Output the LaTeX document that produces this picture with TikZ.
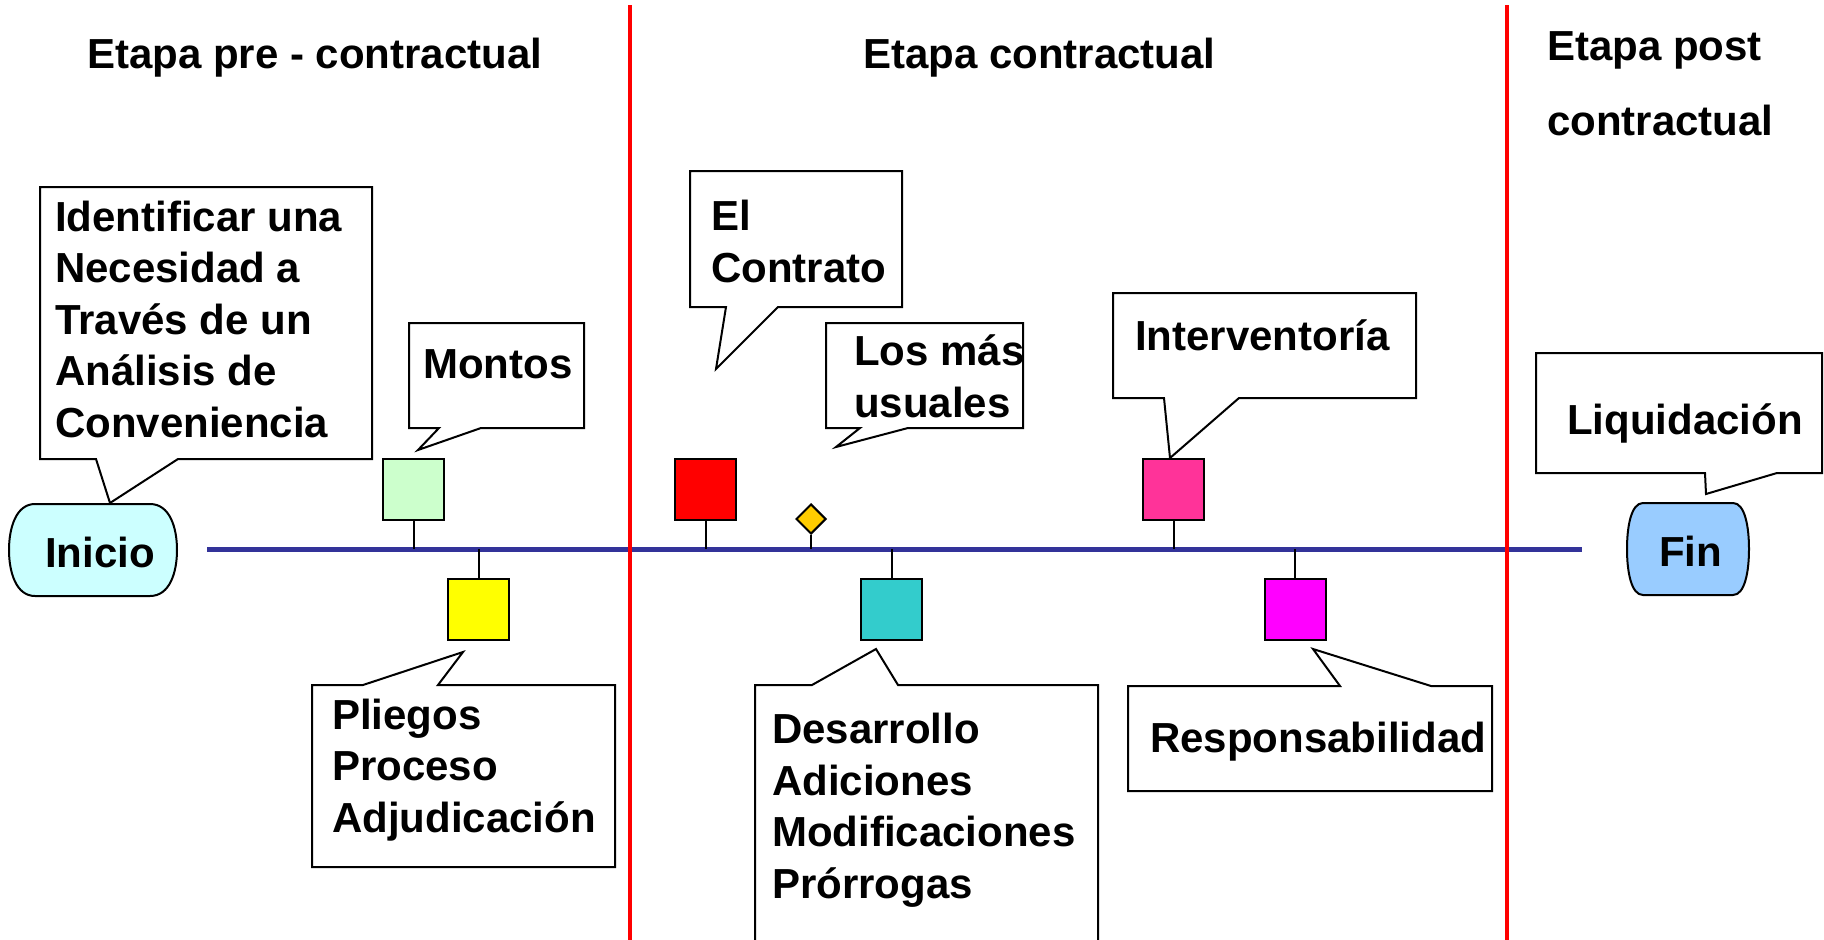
\documentclass[tikz,border=0pt]{standalone}
\usepackage{fontspec}
\setmainfont{Liberation Sans}
\usetikzlibrary{shapes.geometric}
\definecolor{inicioC}{HTML}{CCFFFF}
\definecolor{finC}{HTML}{99CCFF}
\definecolor{greenC}{HTML}{CCFFCC}
\definecolor{yellowC}{HTML}{FFFF00}
\definecolor{redC}{HTML}{FF0000}
\definecolor{diamC}{HTML}{FFCC00}
\definecolor{cyanC}{HTML}{33CCCC}
\definecolor{pinkC}{HTML}{FF3399}
\definecolor{magC}{HTML}{FF00FF}
\definecolor{lineC}{HTML}{333399}
\tikzset{
  txt/.style={font=\fontsize{42}{51.5}\selectfont\bfseries, inner sep=0pt, anchor=base west, align=left},
  callout/.style={draw=black, fill=white, line width=2pt, line join=miter},
  term/.style={draw=black, line width=2pt},
  sq/.style={draw=black, line width=2pt, minimum width=61pt, minimum height=61pt, inner sep=0pt},
  stem/.style={draw=black, line width=2pt},
  timeline/.style={draw=lineC, line width=5pt},
  divider/.style={draw=redC, line width=4.5pt}
}
\begin{document}
\begin{tikzpicture}[x=1pt,y=-1pt]
\useasboundingbox (0,0) rectangle (1824,940);
\clip (0,0) rectangle (1824,940);
\fill[white] (0,0) rectangle (1824,940);

% titles
\node[txt] (t1) at (87,68) {Etapa pre - contractual};
\node[txt] (t2) at (863,68) {Etapa contractual};
\node[txt, font=\fontsize{42}{75}\selectfont\bfseries] (t3) at (1547,135) {Etapa post\\contractual};

% callout shapes
\draw[callout] (40,187) -- (372,187) -- (372,459) -- (178,459) -- (110,503) -- (96,459) -- (40,459) -- cycle;
\draw[callout] (409,323) -- (584,323) -- (584,428) -- (481,428) -- (418,450) -- (439,428) -- (409,428) -- cycle;
\draw[callout] (690,171) -- (902,171) -- (902,307) -- (778,307) -- (716,369) -- (726,307) -- (690,307) -- cycle;
\draw[callout] (826,323) -- (1023,323) -- (1023,428) -- (908,428) -- (836,447) -- (860,428) -- (826,428) -- cycle;
\draw[callout] (1113,293) -- (1416,293) -- (1416,398) -- (1239,398) -- (1170,458) -- (1164,398) -- (1113,398) -- cycle;
\draw[callout] (1536,353) -- (1822,353) -- (1822,473) -- (1777,473) -- (1706,494) -- (1705,473) -- (1536,473) -- cycle;
\draw[callout] (312,685) -- (363,685) -- (463,652) -- (438,685) -- (615,685) -- (615,867) -- (312,867) -- cycle;
\draw[callout] (755,960) -- (755,685) -- (812,685) -- (876,649) -- (898,685) -- (1098,685) -- (1098,960) -- cycle;
\draw[callout] (1128,686) -- (1340,686) -- (1313,649) -- (1431,686) -- (1492,686) -- (1492,791) -- (1128,791) -- cycle;

% callout texts (anchor = baseline of the last line)
\node[txt] (identificar) at (55,437) {Identificar una\\Necesidad a\\Través de un\\Análisis de\\Conveniencia};
\node[txt] (montos) at (423,378) {Montos};
\node[txt] (contrato) at (711,282) {El\\Contrato};
\node[txt] (usuales) at (854,417) {Los más\\usuales};
\node[txt] (interv) at (1135,350) {Interventoría};
\node[txt] (liquid) at (1567,434) {Liquidación};
\node[txt] (pliegos) at (332,832) {Pliegos\\Proceso\\Adjudicación};
\node[txt] (desarrollo) at (772,898) {Desarrollo\\Adiciones\\Modificaciones\\Prórrogas};
\node[txt] (respons) at (1150,752) {Responsabilidad};

% start / end terminals
\draw[term, fill=inicioC] (35,504) -- (150,504) .. controls (170,504) and (177,528) .. (177,550) .. controls (177,572) and (170,596) .. (150,596) -- (35,596) .. controls (16,596) and (9,572) .. (9,550) .. controls (9,528) and (16,504) .. (35,504) -- cycle;
\node[txt] (inicio) at (45,567) {Inicio};
\draw[term, fill=finC] (1643,503) -- (1733,503) .. controls (1745,503) and (1749,527) .. (1749,549) .. controls (1749,571) and (1745,595) .. (1733,595) -- (1643,595) .. controls (1631,595) and (1627,571) .. (1627,549) .. controls (1627,527) and (1631,503) .. (1643,503) -- cycle;
\node[txt] (fin) at (1659,566) {Fin};

% timeline
\coordinate (lstart) at (207,549);
\coordinate (lend) at (1582,549);
\draw[timeline] (lstart) -- (lend);

% squares
\node[sq, fill=greenC] (sqgreen) at (413.5,489.5) {};
\node[sq, fill=redC] (sqred) at (705.5,489) {};
\node[sq, fill=pinkC] (sqpink) at (1173.5,489) {};
\node[sq, fill=yellowC] (sqyellow) at (478.5,609.5) {};
\node[sq, fill=cyanC] (sqcyan) at (891.5,609.5) {};
\node[sq, fill=magC] (sqmag) at (1295,609.5) {};
\node[diamond, draw=black, line width=2pt, fill=diamC, minimum width=30pt, minimum height=30pt, inner sep=0pt] (diam) at (811,519) {};

% stems
\draw[stem] (sqgreen.south) -- (sqgreen.south |- lstart);
\draw[stem] (sqred.south) -- (sqred.south |- lstart);
\draw[stem] (sqpink.south) -- (sqpink.south |- lstart);
\draw[stem] (diam.south) -- (diam.south |- lstart);
\draw[stem] (sqyellow.north |- lstart) -- (sqyellow.north);
\draw[stem] (sqcyan.north |- lstart) -- (sqcyan.north);
\draw[stem] (sqmag.north |- lstart) -- (sqmag.north);

% dividers
\coordinate (d1top) at (630,5);
\coordinate (d1bot) at (630,940);
\coordinate (d2top) at (1507,5);
\coordinate (d2bot) at (1507,940);
\draw[divider] (d1top) -- (d1bot);
\draw[divider] (d2top) -- (d2bot);
\end{tikzpicture}
\end{document}
